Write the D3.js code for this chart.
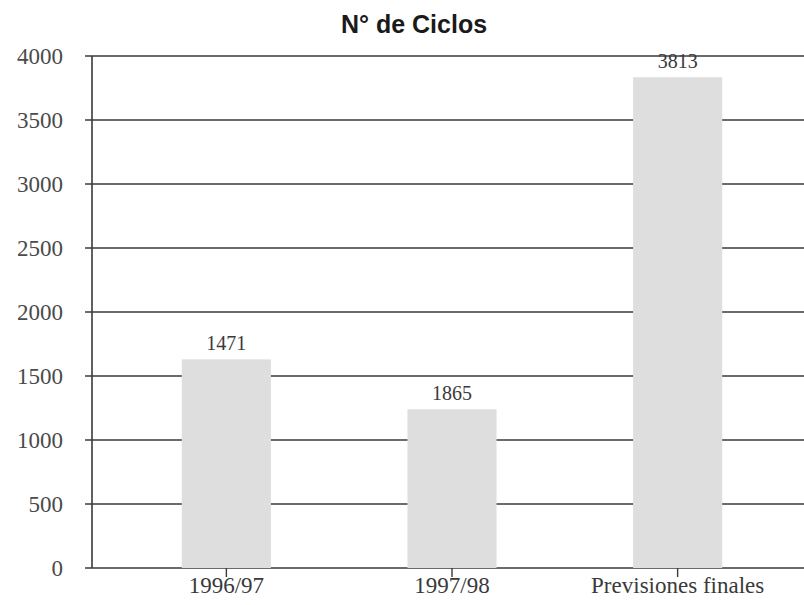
<!DOCTYPE html>
<html>
<head>
<meta charset="utf-8">
<script src="https://cdn.jsdelivr.net/npm/d3@7"></script>
<style>
  body { margin: 0; background: #fff; }
  .grid line { stroke: #3a3a3a; stroke-width: 1.6; }
  .bar { fill: #dedede; }
  text { font-family: "Liberation Serif", serif; fill: #3a3a3a; }
</style>
</head>
<body>
<svg class="chart"></svg>
<script>
// categories, bar heights as drawn, and the printed labels
categories = ["1996/97", "1997/98", "Previsiones finales"];
bar_values = [1630, 1240, 3834];
bar_labels = ["1471", "1865", "3813"];
y_ticks = [0, 500, 1000, 1500, 2000, 2500, 3000, 3500, 4000];
title_text = "N\u00b0 de Ciclos";

var width = 804, height = 605;
var y0 = 568, y1 = 56, axis_x = 92;

var svg = d3.select(".chart")
    .attr("width", width)
    .attr("height", height);

var x = d3.scaleBand()
    .domain(categories)
    .range([69, 835])
    .paddingInner(0.605)
    .paddingOuter(0.5);

var y = d3.scaleLinear()
    .domain([0, 4000])
    .range([y0, y1]);

// gridlines
svg.append("g")
    .attr("class", "grid")
    .selectAll("line")
    .data(y_ticks)
  .enter().append("line")
    .attr("x1", 85)
    .attr("x2", width)
    .attr("y1", function(d) { return y(d); })
    .attr("y2", function(d) { return y(d); });

// y axis line
svg.append("line")
    .attr("x1", axis_x).attr("x2", axis_x)
    .attr("y1", y(4000)).attr("y2", y(0))
    .attr("stroke", "#3a3a3a")
    .attr("stroke-width", 1.6);

// y tick labels
svg.append("g").selectAll("text")
    .data(y_ticks)
  .enter().append("text")
    .attr("x", 63)
    .attr("y", function(d) { return y(d); })
    .attr("dy", "0.35em")
    .attr("text-anchor", "end")
    .style("font-size", "23px")
    .style("fill", "#4a4a4a")
    .text(function(d) { return d; });

// bars
svg.append("g").selectAll("rect")
    .data(categories)
  .enter().append("rect")
    .attr("class", "bar")
    .attr("x", function(d) { return x(d); })
    .attr("width", x.bandwidth())
    .attr("y", function(d, i) { return y(bar_values[i]); })
    .attr("height", function(d, i) { return y0 - y(bar_values[i]); });

// bar labels
svg.append("g").selectAll("text")
    .data(categories)
  .enter().append("text")
    .attr("x", function(d) { return x(d) + x.bandwidth() / 2; })
    .attr("y", function(d, i) { return y(bar_values[i]) - 9; })
    .attr("text-anchor", "middle")
    .style("font-size", "20px")
    .text(function(d, i) { return bar_labels[i]; });

// x ticks and labels
var xt = svg.append("g").selectAll("g")
    .data(categories)
  .enter().append("g")
    .attr("transform", function(d) { return "translate(" + (x(d) + x.bandwidth() / 2) + ",0)"; });

xt.append("line")
    .attr("y1", y0).attr("y2", y0 + 9)
    .attr("stroke", "#3a3a3a")
    .attr("stroke-width", 1.4);

xt.append("text")
    .attr("y", 593)
    .attr("text-anchor", "middle")
    .style("font-size", "23px")
    .text(function(d) { return d; });

// title
svg.append("text")
    .attr("x", 414)
    .attr("y", 33)
    .attr("text-anchor", "middle")
    .style("font-family", "'Liberation Sans', Arial, sans-serif")
    .style("font-weight", "bold")
    .style("font-size", "25px")
    .style("fill", "#1a1a1a")
    .text(title_text);
</script>
</body>
</html>
